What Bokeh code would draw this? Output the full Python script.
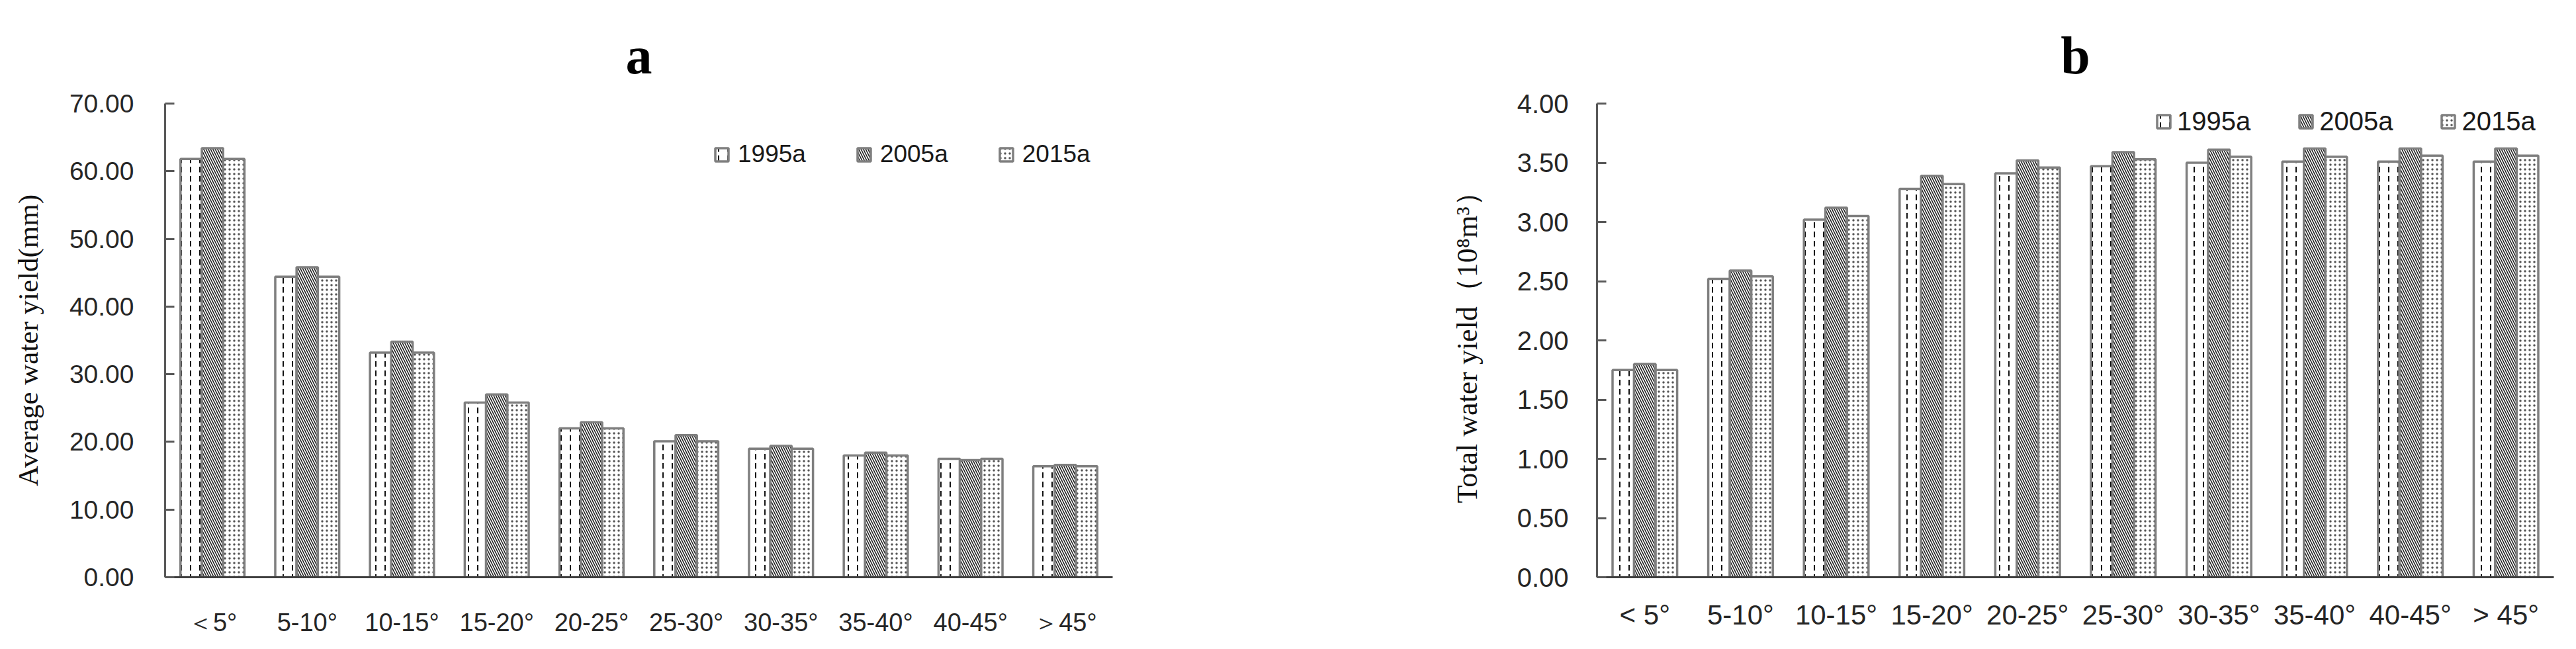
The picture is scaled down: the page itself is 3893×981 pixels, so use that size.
from bokeh.plotting import figure
from bokeh.models import (FactorRange, Range1d, FixedTicker, PrintfTickFormatter,
                          Legend, LegendItem, ColumnDataSource)
from bokeh.transform import dodge
from bokeh.layouts import row
from bokeh.embed import file_html
from bokeh.resources import INLINE

# ---------------- data ----------------
slopes_a = ["＜5°", "5-10°", "10-15°", "15-20°", "20-25°", "25-30°",
            "30-35°", "35-40°", "40-45°", "＞45°"]
slopes_b = ["< 5°", "5-10°", "10-15°", "15-20°", "20-25°", "25-30°",
            "30-35°", "35-40°", "40-45°", "> 45°"]
years = ["1995a", "2005a", "2015a"]

avg_1995 = [61.8, 44.4, 33.2, 25.8, 22.0, 20.1, 19.0, 18.0, 17.5, 16.4]
avg_2005 = [63.4, 45.8, 34.8, 27.0, 22.9, 21.0, 19.4, 18.4, 17.3, 16.6]
avg_2015 = [61.8, 44.4, 33.2, 25.8, 22.0, 20.1, 19.0, 18.0, 17.5, 16.4]

tot_1995 = [1.75, 2.52, 3.02, 3.28, 3.41, 3.47, 3.50, 3.51, 3.51, 3.51]
tot_2005 = [1.80, 2.59, 3.12, 3.39, 3.52, 3.59, 3.61, 3.62, 3.62, 3.62]
tot_2015 = [1.75, 2.54, 3.05, 3.32, 3.46, 3.53, 3.55, 3.55, 3.56, 3.56]

ticks_a = [0, 10, 20, 30, 40, 50, 60, 70]
ticks_b = [0, 0.5, 1.0, 1.5, 2.0, 2.5, 3.0, 3.5, 4.0]

# ---------------- styles ----------------
BAR_W = 0.225
OFFS = [-0.225, 0.0, 0.225]
HATCH = [dict(hatch_pattern="vertical_dash", hatch_scale=14, hatch_weight=2, hatch_color="#111111"),
         dict(hatch_pattern="left_diagonal_line", hatch_scale=7, hatch_weight=1.6, hatch_color="#222222"),
         dict(hatch_pattern="dot", hatch_scale=7, hatch_weight=1.6, hatch_color="#555555")]
SANS = "Liberation Sans"
SERIF = "Liberation Serif"
AXIS_COLOR = "#595959"


def make_panel(cats, s1, s2, s3, ymax, ticks, title, ylabel, width, bl, br,
               tick_fs, xlab_fs, xlab_standoff, ylabel_fs, ylabel_standoff, ytick_standoff,
               leg_loc, leg_fs, leg_spacing, leg_standoff):
    src = ColumnDataSource(dict(cat=cats, y1=s1, y2=s2, y3=s3))
    p = figure(x_range=FactorRange(*cats), y_range=Range1d(0, ymax),
               width=width, height=965, output_backend="svg", toolbar_location=None,
               min_border_left=bl, min_border_right=br, min_border_top=156, min_border_bottom=93)
    p.x_range.range_padding = 0
    p.x_range.factor_padding = 0
    p.outline_line_color = None
    p.xgrid.visible = False
    p.ygrid.visible = False
    p.background_fill_color = "white"

    rends = []
    for i, col in enumerate(["y1", "y2", "y3"]):
        r = p.vbar(x=dodge("cat", OFFS[i], range=p.x_range), top=col, width=BAR_W, source=src,
                   fill_color="white", line_color="#7f7f7f", line_width=3.5, **HATCH[i])
        rends.append(r)

    # title
    p.title.text = title
    p.title.align = "center"
    p.title.text_font = SERIF
    p.title.text_font_style = "bold"
    p.title.text_font_size = "80px"
    p.title.text_color = "black"
    p.title.standoff = 57

    # y axis
    ya = p.yaxis[0]
    ya.ticker = FixedTicker(ticks=ticks)
    ya.formatter = PrintfTickFormatter(format="%.2f")
    ya.axis_line_color = AXIS_COLOR
    ya.axis_line_width = 3
    ya.major_tick_line_color = AXIS_COLOR
    ya.major_tick_line_width = 3
    ya.major_tick_in = 14
    ya.major_tick_out = 0
    ya.minor_tick_line_color = None
    ya.major_label_text_font = SANS
    ya.major_label_text_font_size = tick_fs
    ya.major_label_text_color = "#262626"
    ya.major_label_standoff = ytick_standoff
    ya.axis_label = ylabel
    ya.axis_label_text_font = SERIF
    ya.axis_label_text_font_style = "normal"
    ya.axis_label_text_font_size = ylabel_fs
    ya.axis_label_text_color = "#111111"
    ya.axis_label_standoff = ylabel_standoff

    # x axis
    xa = p.xaxis[0]
    xa.axis_line_color = "#404040"
    xa.axis_line_width = 3
    xa.major_tick_line_color = None
    xa.major_tick_in = 0
    xa.major_tick_out = 0
    xa.minor_tick_line_color = None
    xa.major_label_text_font = SANS
    xa.major_label_text_font_size = xlab_fs
    xa.major_label_text_color = "#262626"
    xa.major_label_standoff = xlab_standoff
    xa.major_label_orientation = "horizontal"

    legend = Legend(items=[LegendItem(label=years[i], renderers=[rends[i]]) for i in range(3)],
                    orientation="horizontal", location=leg_loc,
                    glyph_width=25, glyph_height=25, label_text_font=SANS,
                    label_text_font_size=leg_fs, label_text_color="#1a1a1a",
                    label_standoff=leg_standoff, spacing=leg_spacing, padding=0, margin=0,
                    border_line_color=None, background_fill_alpha=0)
    p.add_layout(legend)
    return p


pa = make_panel(slopes_a, avg_1995, avg_2005, avg_2015, 70, ticks_a, "a",
                "Average water yield(mm)", 1950, 249, 269,
                "39px", "38px", 47, "43px", 36, 47,
                (829, 618), "37px", 75, 12)
pb = make_panel(slopes_b, tot_1995, tot_2005, tot_2015, 4.0, ticks_b, "b",
                "Total water yield（10⁸m³）", 1927, 463, 18,
                "40px", "42px", 33, "44px", 48, 43,
                (844, 666), "40px", 71, 8)

layout = row(pa, pb)
open("out.html", "w").write(file_html(layout, INLINE))
